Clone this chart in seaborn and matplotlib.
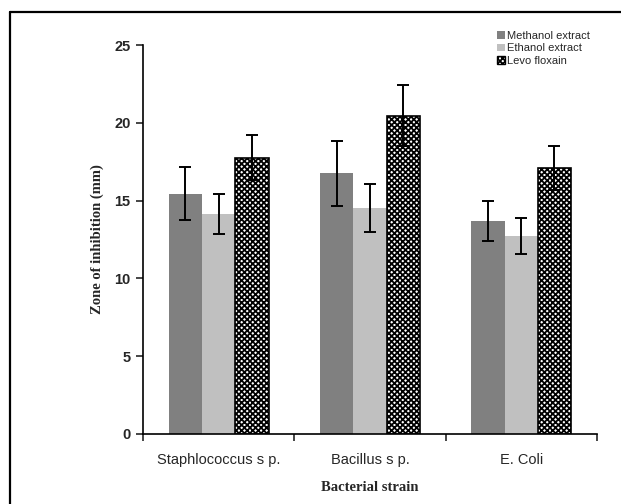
import matplotlib
matplotlib.use('Agg')
import matplotlib.pyplot as plt
import seaborn as sns
import pandas as pd
import numpy as np
from matplotlib.patches import Patch
from matplotlib.lines import Line2D

# data
strains = ['Staphlococcus s p.', 'Bacillus s p.', 'E. Coli']
treatments = ['Methanol extract', 'Ethanol extract', 'Levo floxain']
methanol = [15.45, 16.75, 13.7]
ethanol = [14.15, 14.5, 12.75]
levo = [17.75, 20.45, 17.1]
methanol_err = [1.7, 2.1, 1.3]
ethanol_err = [1.3, 1.55, 1.15]
levo_err = [1.45, 1.95, 1.4]

rows = []
for vals, errs, t in [(methanol, methanol_err, treatments[0]),
                      (ethanol, ethanol_err, treatments[1]),
                      (levo, levo_err, treatments[2])]:
    for s, v, e in zip(strains, vals, errs):
        rows.append({'strain': s, 'treatment': t, 'zone': v, 'err': e})
df = pd.DataFrame(rows)

sns.set_style('white')
plt.rcParams['font.family'] = ['Liberation Sans', 'DejaVu Sans']
plt.rcParams['hatch.linewidth'] = 1.3

fig = plt.figure(figsize=(6.21, 5.04), dpi=100)
ax = fig.add_axes([0.2303, 0.1389, 0.7307, 0.7718])

palette = {treatments[0]: '#808080', treatments[1]: '#c0c0c0', treatments[2]: '#ffffff'}
sns.barplot(data=df, x='strain', y='zone', hue='treatment', palette=palette,
            order=strains, hue_order=treatments, width=0.66, errorbar=None,
            saturation=1, linewidth=0, legend=False, ax=ax)

# style bars and add error bars
n = len(strains)
for i, t in enumerate(treatments):
    sub = df[df['treatment'] == t].set_index('strain').loc[strains]
    bars = ax.patches[i * n:(i + 1) * n]
    xs = []
    for b in bars:
        xs.append(b.get_x() + b.get_width() / 2)
        if t == treatments[2]:
            b.set_hatch('xxxxxx')
            b.set_edgecolor('black')
            b.set_linewidth(1.2)
    ax.errorbar(xs, sub['zone'].values, yerr=sub['err'].values, fmt='none',
                ecolor='black', elinewidth=1.4, capsize=4, capthick=1.4, zorder=5)

ax.set_ylim(0, 25)
ax.set_xlim(-0.5, 2.5)
ax.set_yticks([0, 5, 10, 15, 20, 25])
ax.set_xticks(range(n))
ax.set_xticklabels(strains)
ax.set_xticks([-0.5, 0.5, 1.5, 2.5], minor=True)
ax.tick_params(axis='x', which='major', length=0, pad=14, labelsize=10.5)
ax.tick_params(axis='x', which='minor', length=5, width=1.2, direction='out', bottom=True)
ax.tick_params(axis='y', length=5, width=1.2, direction='out', left=True, labelsize=10.5, pad=4)
for lab in ax.get_yticklabels():
    lab.set_fontweight('bold')

for side in ['top', 'right']:
    ax.spines[side].set_visible(False)
for side in ['left', 'bottom']:
    ax.spines[side].set_color('black')
    ax.spines[side].set_linewidth(1.2)

ax.set_xlabel('Bacterial strain', family=['Liberation Serif'], fontweight='bold',
              fontsize=10.5, labelpad=10)
ax.set_ylabel('Zone of inhibition (mm)', family=['Liberation Serif'], fontweight='bold',
              fontsize=10.5, labelpad=7)

handles = [Patch(facecolor='#808080', edgecolor='none'),
           Patch(facecolor='#c0c0c0', edgecolor='none'),
           Patch(facecolor='white', edgecolor='black', hatch='xxxxxx')]
fig.legend(handles, treatments, loc='upper left', bbox_to_anchor=(0.793, 0.947),
           frameon=False, fontsize=8, handlelength=0.7, handleheight=0.7,
           handletextpad=0.2, labelspacing=0.2, borderaxespad=0)

# outer frame (left and top edges visible)
fig.add_artist(Line2D([9.5 / 621, 9.5 / 621], [0, 1 - 12 / 504], color='black',
                      linewidth=1.6, transform=fig.transFigure))
fig.add_artist(Line2D([9.5 / 621, 1], [1 - 12 / 504, 1 - 12 / 504], color='black',
                      linewidth=1.6, transform=fig.transFigure))

fig.savefig('out.png', dpi=100)
